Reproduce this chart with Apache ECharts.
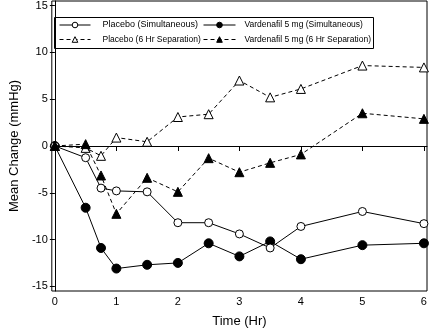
<!DOCTYPE html>
<html>
<head>
<meta charset="utf-8">
<script src="https://cdn.jsdelivr.net/npm/echarts@6/dist/echarts.min.js"></script>
<style>html,body{margin:0;padding:0;background:#fff;}#c{width:430px;height:335px;}</style>
</head>
<body>
<div id="c"></div>
<script>
var times = [0, 0.5, 0.75, 1, 1.5, 2, 2.5, 3, 3.5, 4, 5, 6];
var placeboSim = [0, -1.25, -4.5, -4.8, -4.9, -8.2, -8.2, -9.4, -10.9, -8.6, -7.0, -8.3];
var vardSim = [0, -6.6, -10.9, -13.1, -12.7, -12.5, -10.4, -11.8, -10.2, -12.1, -10.6, -10.4];
var placeboSep = [0, -0.2, -1.05, 0.9, 0.45, 3.1, 3.4, 7.0, 5.2, 6.1, 8.6, 8.4];
var vardSep = [0, 0.2, -3.15, -7.25, -3.4, -4.9, -1.3, -2.8, -1.8, -0.9, 3.5, 2.9];
var xTicks = [0, 1, 2, 3, 4, 5, 6];
var yTicks = [-15, -10, -5, 0, 5, 10, 15];
var names = ['Placebo (Simultaneous)', 'Vardenafil 5 mg (Simultaneous)', 'Placebo (6 Hr Separation)', 'Vardenafil 5 mg (6 Hr Separation)'];

function pairs(vals){ return times.map(function(t,i){ return [t, vals[i]]; }); }
var font = 'Liberation Sans, Arial, sans-serif';

function mkSeries(name, vals, symbol, filled, dashed, size){
  return {
    name: name, type: 'line', data: pairs(vals),
    symbol: symbol, symbolSize: size, showSymbol: true,
    lineStyle: {color: '#000', width: 1, type: dashed ? [4,3] : 'solid'},
    itemStyle: {color: filled ? '#000' : '#fff', borderColor: '#000', borderWidth: 1},
    emphasis: {disabled: true}, animation: false
  };
}
function mkLegend(name, left, top, w, pad, fs){
  return {
    data: [name], left: left, top: top, padding: 0,
    itemWidth: w, itemHeight: 7, selectedMode: false,
    lineStyle: {width: 1},
    itemStyle: {borderWidth: 1},
    textStyle: {fontFamily: font, fontSize: fs, color: '#000', padding: [0,0,0,pad]}
  };
}
var series = [
  mkSeries(names[0], placeboSim, 'circle', false, false, 8),
  mkSeries(names[1], vardSim, 'circle', true, false, 9),
  mkSeries(names[2], placeboSep, 'triangle', false, true, 9),
  mkSeries(names[3], vardSep, 'triangle', true, true, 9)
];
series[0].markLine = {silent: true, symbol: 'none', label: {show: false},
  lineStyle: {color: '#000', width: 1, type: 'solid'}, data: [{yAxis: 0}], animation: false};
series[0].z = 3; series[1].z = 2; series[2].z = 4; series[3].z = 5;

var chart = echarts.init(document.getElementById('c'), null, {renderer: 'canvas'});
chart.setOption({
  animation: false,
  backgroundColor: '#fff',
  grid: {left: 43, right: 3, top: 1, bottom: 44, show: true, borderColor: '#000', borderWidth: 1, backgroundColor: 'transparent'},
  xAxis: {
    type: 'value', min: -0.05, max: 6.05,
    name: 'Time (Hr)', nameLocation: 'middle', nameGap: 24,
    nameTextStyle: {fontFamily: font, fontSize: 13, color: '#000'},
    axisLine: {show: true, lineStyle: {color: '#000', width: 1}},
    axisTick: {show: true, length: 5, inside: false, customValues: xTicks, lineStyle: {color: '#000'}},
    axisLabel: {customValues: xTicks, fontFamily: font, fontSize: 11, color: '#000', margin: 5},
    splitLine: {show: false}
  },
  yAxis: {
    type: 'value', min: -15.5, max: 15.5,
    name: 'Mean Change (mmHg)', nameLocation: 'middle', nameGap: 24, nameRotate: 90,
    nameTextStyle: {fontFamily: font, fontSize: 13, color: '#000'},
    axisLine: {show: true, lineStyle: {color: '#000', width: 1}},
    axisTick: {show: true, length: 5, inside: false, customValues: yTicks, lineStyle: {color: '#000'}},
    axisLabel: {customValues: yTicks, fontFamily: font, fontSize: 11, color: '#000', margin: 4},
    splitLine: {show: false}
  },
  legend: [
    mkLegend(names[0], 59, 20.5, 31, 7, 9),
    mkLegend(names[1], 203, 20.5, 32, 4, 8.5),
    mkLegend(names[2], 59, 35, 31, 7, 8.5),
    mkLegend(names[3], 203, 35, 32, 4, 8.5)
  ],
  graphic: [{type: 'rect', shape: {x: 54.5, y: 17.5, width: 319, height: 31}, style: {fill: 'none', stroke: '#000', lineWidth: 1}, z: 100, silent: true}],
  series: series
});
</script>
</body>
</html>
